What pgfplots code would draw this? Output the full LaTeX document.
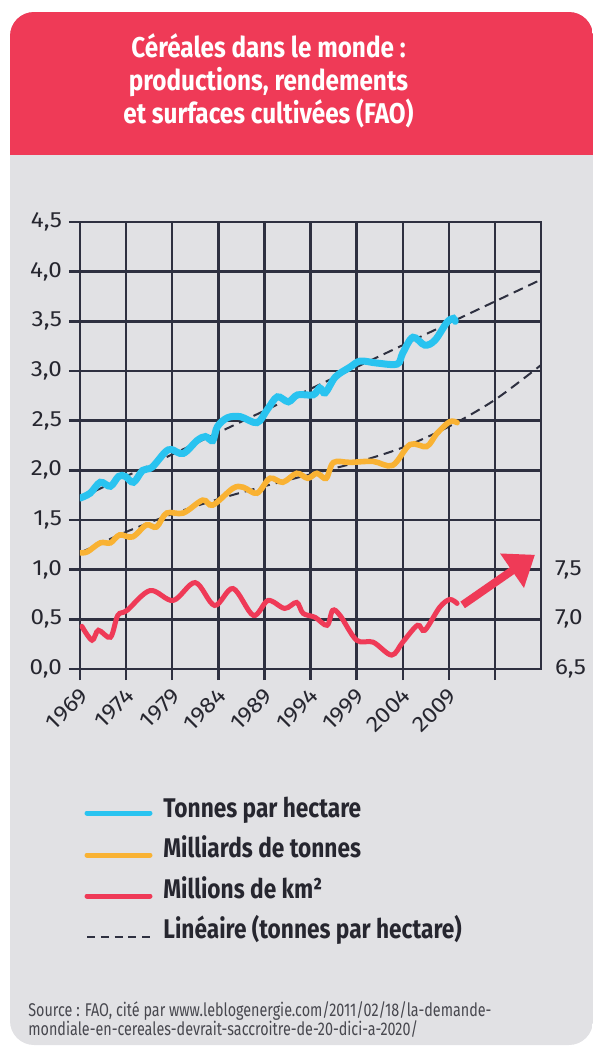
\documentclass[border=0pt]{standalone}
\usepackage{pgfplots}
\pgfplotsset{compat=1.18}
\usepackage{fontspec}
\setmainfont{Fira Sans}
\newfontfamily\titlefont[FakeStretch=0.85]{Fira Sans}
\newfontfamily\condfont[FakeStretch=0.84]{Fira Sans}
\newfontfamily\srcfont[FakeStretch=0.78]{Fira Sans}
\newfontfamily\tickfont[FakeStretch=1.1]{Fira Sans}
\usetikzlibrary{arrows.meta}
\definecolor{bgpanel}{HTML}{E1E1E4}
\definecolor{titlered}{HTML}{EF3A57}
\definecolor{gridc}{HTML}{2E3040}
\definecolor{cblue}{HTML}{29C3F0}
\definecolor{corange}{HTML}{F9B233}
\definecolor{cred}{HTML}{EF3A57}
\definecolor{txt}{HTML}{26262F}
\begin{document}
\begin{tikzpicture}
\useasboundingbox (0,0) rectangle (296.5pt,-525pt);
\begin{scope}
\clip (0,0) rectangle (296.5pt,-525pt);
\path[clip, rounded corners=12pt] (5pt,-6pt) rectangle (296.5pt,-522.5pt);
\fill[bgpanel] (0,0) rectangle (310pt,-530pt);
\fill[titlered] (0,0) rectangle (310pt,-77.5pt);
\end{scope}
\begin{scope}[every node/.style={text=white, font=\titlefont\bfseries\fontsize{14.3}{17}\selectfont, anchor=base, inner sep=0pt}]
\node at (134.25pt,-28.5pt) {Céréales dans le monde :};
\node at (134.25pt,-45pt) {productions, rendements};
\node at (134.25pt,-61.5pt) {et surfaces cultivées (FAO)};
\end{scope}

\begin{axis}[
  at={(40pt,-334.5pt)}, anchor=south west,
  width=230.5pt, height=223.5pt, scale only axis,
  xmin=1969, xmax=2019, ymin=0, ymax=4.5,
  xtick={1969,1974,1979,1984,1989,1994,1999,2004,2009,2014},
  xticklabels={1969,1974,1979,1984,1989,1994,1999,2004,2009,{}},
  ytick={0,0.5,1,1.5,2,2.5,3,3.5,4,4.5},
  xtick pos=left, ytick pos=left,
  grid=major, major grid style={gridc, line width=1.2pt},
  axis line style={gridc, line width=1.2pt},
  tick style={gridc, line width=1.2pt},
  tick align=outside, major tick length=5.5pt,
  tick label style={font=\tickfont\fontsize{11}{13}\selectfont, text=txt},
  /pgf/number format/use comma, /pgf/number format/fixed,
  /pgf/number format/fixed zerofill, /pgf/number format/precision=1,
  /pgf/number format/assume math mode=true,
  xticklabel style={xshift=4.5pt, yshift=-3.5pt, rotate=45, anchor=east},
]
% Linear trend (tonnes par hectare)
\addplot[gridc, line width=1pt, dash pattern=on 5pt off 3pt] coordinates {
(1969,1.72) (2019,3.92)};
% trend for production
\addplot[gridc, line width=1pt, dash pattern=on 5pt off 3pt, smooth] coordinates {
(1969,1.17) (1974,1.38) (1979,1.56) (1984,1.71) (1989,1.84) (1994,1.96)
(1999,2.08) (2004,2.23) (2009,2.44) (2014,2.71) (2019,3.06)};
% Tonnes par hectare
\addplot[cblue, line width=3.5pt, smooth, tension=0.55, line cap=round] coordinates {
(1969.0,1.72) (1970.1,1.77) (1971.2,1.88) (1972.3,1.84) (1973.2,1.94)
(1973.9,1.94) (1974.8,1.88) (1975.8,2.00) (1976.8,2.03) (1978.2,2.18)
(1978.9,2.21) (1980.2,2.17) (1981.7,2.30) (1982.6,2.34) (1983.4,2.30)
(1983.9,2.44) (1985.0,2.53) (1986.4,2.54) (1988.2,2.48) (1989.3,2.61)
(1990.4,2.74) (1991.6,2.69) (1992.6,2.76) (1994.3,2.76) (1995.0,2.83)
(1995.6,2.78) (1996.7,2.94) (1998.3,3.04) (1999.4,3.10) (2001.2,3.08)
(2003.4,3.07) (2004.0,3.18) (2005.1,3.34) (2006.4,3.26) (2007.5,3.31)
(2008.8,3.49) (2009.5,3.53) (2009.7,3.50)};
% Milliards de tonnes
\addplot[corange, line width=2.8pt, smooth, tension=0.55, line cap=round] coordinates {
(1969.0,1.17) (1969.8,1.18) (1971.2,1.27) (1972.3,1.27) (1973.3,1.35)
(1974.7,1.33) (1976.2,1.45) (1977.3,1.43) (1978.4,1.57) (1980.2,1.57)
(1982.3,1.70) (1983.4,1.65) (1985.6,1.82) (1986.7,1.83) (1988.2,1.77)
(1989.6,1.92) (1991.0,1.88) (1992.5,1.97) (1993.7,1.92) (1994.7,1.97)
(1995.7,1.92) (1996.5,2.08) (1998.3,2.08) (2000.8,2.09) (2002.9,2.05)
(2004.8,2.26) (2006.6,2.24) (2007.7,2.37) (2009.1,2.49) (2009.9,2.48)};
% Millions de km2 (right scale 6.5 at 0)
\addplot[cred, line width=2.5pt, smooth, tension=0.55, line cap=round] coordinates {
(1969.2,0.43) (1970.3,0.29) (1971.0,0.39) (1972.3,0.32) (1973.1,0.54)
(1974.1,0.59) (1976.6,0.79) (1979.1,0.69) (1981.5,0.87) (1983.6,0.64)
(1985.6,0.81) (1987.8,0.54) (1989.4,0.69) (1991.2,0.61) (1992.5,0.67)
(1993.2,0.56) (1994.5,0.52) (1995.8,0.44) (1996.4,0.59) (1997.2,0.54)
(1999.0,0.29) (2000.8,0.27) (2002.8,0.14) (2004.0,0.27) (2005.6,0.44)
(2006.4,0.39) (2008.0,0.62) (2009.1,0.70) (2009.9,0.66)};
% arrow
\addplot[cred, line width=4pt, -{Triangle[width=20pt,length=14pt]}] coordinates {
(2010.5,0.645) (2018.35,1.15)};
\end{axis}

\begin{axis}[
  at={(40pt,-334.5pt)}, anchor=south west,
  width=230.5pt, height=223.5pt, scale only axis,
  xmin=1969, xmax=2019, ymin=6.5, ymax=11,
  axis x line=none, axis y line*=right,
  ytick={6.5,7,7.5}, major tick length=0pt,
  axis line style={gridc, line width=1.2pt},
  tick style={draw=none},
  yticklabel style={font=\tickfont\fontsize{11}{13}\selectfont, text=txt, xshift=3.5pt},
  /pgf/number format/use comma, /pgf/number format/fixed,
  /pgf/number format/fixed zerofill, /pgf/number format/precision=1,
  /pgf/number format/assume math mode=true,
]
\end{axis}

% legend
\begin{scope}[every node/.style={text=txt, font=\condfont\bfseries\fontsize{13.5}{16}\selectfont, anchor=base west, inner sep=0pt}]
\draw[cblue, line width=2.5pt, line cap=round] (43.5pt,-406.5pt) -- (75pt,-406.5pt);
\node at (81.5pt,-408.5pt) {Tonnes par hectare};
\draw[corange, line width=2.5pt, line cap=round] (43.5pt,-427.5pt) -- (75pt,-427.5pt);
\node at (81.5pt,-428.5pt) {Milliards de tonnes};
\draw[cred, line width=2.5pt, line cap=round] (43.5pt,-448pt) -- (75pt,-448pt);
\node at (81.5pt,-449pt) {Millions de km²};
\draw[gridc, line width=1pt, dash pattern=on 4pt off 2.9pt] (43.5pt,-468.5pt) -- (75pt,-468.5pt);
\node at (81.5pt,-469pt) {Linéaire (tonnes par hectare)};
\end{scope}

\begin{scope}[every node/.style={text=txt!85, font=\srcfont\fontsize{9.2}{11}\selectfont, anchor=base west, inner sep=0pt}]
\node at (14pt,-508pt) {Source : FAO, cité par www.leblogenergie.com/2011/02/18/la-demande-};
\node at (14pt,-517.5pt) {mondiale-en-cereales-devrait-saccroitre-de-20-dici-a-2020/};
\end{scope}
\end{tikzpicture}
\end{document}
